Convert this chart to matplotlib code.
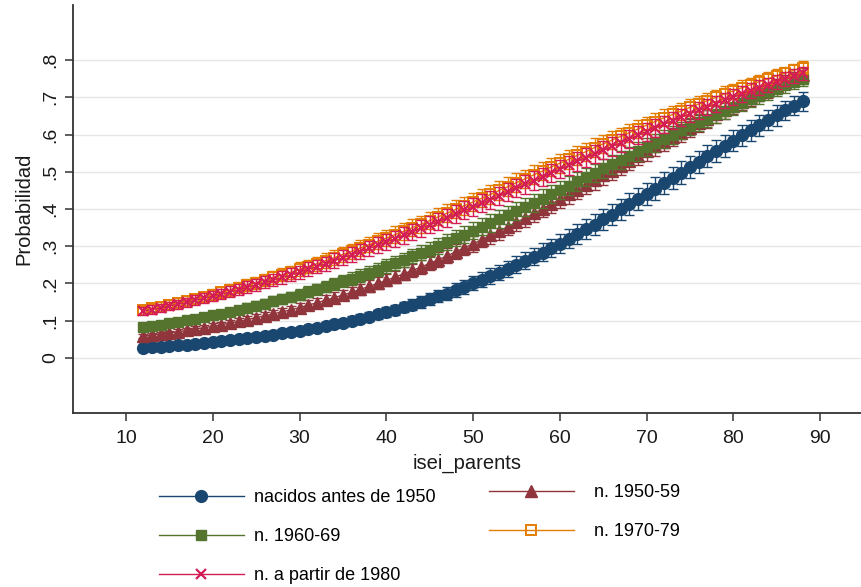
import numpy as np
import matplotlib
matplotlib.use("Agg")
import matplotlib.pyplot as plt
from matplotlib.ticker import FixedLocator, FuncFormatter

plt.rcParams['font.family'] = ['Liberation Sans', 'DejaVu Sans']

# predicted probability by parents' ISEI, one curve per birth cohort
isei = list(range(12, 89))

p_pre1950 = [0.027, 0.029, 0.030, 0.032, 0.034, 0.036, 0.038, 0.040, 0.042, 0.045,
             0.047, 0.050, 0.053, 0.056, 0.059, 0.062, 0.066, 0.069, 0.073, 0.077,
             0.081, 0.086, 0.090, 0.095, 0.100, 0.105, 0.111, 0.117, 0.123, 0.129,
             0.136, 0.143, 0.150, 0.157, 0.165, 0.173, 0.182, 0.190, 0.200, 0.209,
             0.219, 0.229, 0.239, 0.250, 0.260, 0.272, 0.283, 0.295, 0.307, 0.320,
             0.332, 0.345, 0.358, 0.372, 0.385, 0.399, 0.413, 0.427, 0.441, 0.455,
             0.470, 0.484, 0.498, 0.513, 0.527, 0.542, 0.556, 0.570, 0.584, 0.598,
             0.612, 0.625, 0.639, 0.652, 0.665, 0.678, 0.690]

p_1950s = [0.058, 0.061, 0.064, 0.067, 0.070, 0.074, 0.078, 0.081, 0.085, 0.089,
           0.094, 0.098, 0.103, 0.108, 0.113, 0.118, 0.124, 0.129, 0.135, 0.142,
           0.148, 0.155, 0.162, 0.169, 0.176, 0.184, 0.192, 0.200, 0.208, 0.217,
           0.226, 0.235, 0.244, 0.254, 0.264, 0.274, 0.285, 0.296, 0.306, 0.318,
           0.329, 0.340, 0.352, 0.364, 0.376, 0.388, 0.401, 0.413, 0.426, 0.439,
           0.451, 0.464, 0.477, 0.490, 0.503, 0.516, 0.529, 0.542, 0.555, 0.568,
           0.580, 0.593, 0.605, 0.618, 0.630, 0.642, 0.654, 0.665, 0.677, 0.688,
           0.699, 0.710, 0.720, 0.731, 0.741, 0.751, 0.760]

p_1960s = [0.082, 0.086, 0.089, 0.093, 0.097, 0.101, 0.105, 0.110, 0.115, 0.119,
           0.124, 0.129, 0.135, 0.140, 0.146, 0.152, 0.158, 0.164, 0.170, 0.177,
           0.184, 0.191, 0.198, 0.206, 0.213, 0.221, 0.229, 0.237, 0.246, 0.255,
           0.263, 0.273, 0.282, 0.291, 0.301, 0.311, 0.321, 0.331, 0.341, 0.352,
           0.362, 0.373, 0.384, 0.395, 0.406, 0.417, 0.428, 0.440, 0.451, 0.463,
           0.474, 0.486, 0.497, 0.509, 0.520, 0.532, 0.543, 0.555, 0.566, 0.578,
           0.589, 0.600, 0.611, 0.622, 0.633, 0.643, 0.654, 0.664, 0.675, 0.685,
           0.695, 0.704, 0.714, 0.723, 0.732, 0.741, 0.750]

p_1970s = [0.128, 0.133, 0.138, 0.143, 0.148, 0.153, 0.159, 0.164, 0.170, 0.176,
           0.182, 0.189, 0.195, 0.202, 0.209, 0.216, 0.223, 0.230, 0.238, 0.245,
           0.253, 0.261, 0.269, 0.278, 0.286, 0.295, 0.304, 0.313, 0.322, 0.331,
           0.340, 0.350, 0.359, 0.369, 0.379, 0.389, 0.399, 0.409, 0.419, 0.429,
           0.439, 0.450, 0.460, 0.471, 0.481, 0.492, 0.502, 0.513, 0.523, 0.533,
           0.544, 0.554, 0.565, 0.575, 0.585, 0.595, 0.605, 0.615, 0.625, 0.635,
           0.645, 0.654, 0.663, 0.673, 0.682, 0.691, 0.700, 0.709, 0.717, 0.726,
           0.734, 0.742, 0.750, 0.758, 0.765, 0.773, 0.780]

p_1980on = [0.125, 0.130, 0.134, 0.139, 0.144, 0.149, 0.155, 0.160, 0.166, 0.171,
            0.177, 0.183, 0.190, 0.196, 0.203, 0.209, 0.216, 0.223, 0.230, 0.238,
            0.245, 0.253, 0.261, 0.269, 0.277, 0.285, 0.294, 0.302, 0.311, 0.320,
            0.329, 0.338, 0.348, 0.357, 0.366, 0.376, 0.386, 0.396, 0.405, 0.415,
            0.425, 0.435, 0.446, 0.456, 0.466, 0.476, 0.486, 0.497, 0.507, 0.517,
            0.528, 0.538, 0.548, 0.558, 0.568, 0.578, 0.588, 0.598, 0.608, 0.618,
            0.628, 0.637, 0.647, 0.656, 0.665, 0.674, 0.683, 0.692, 0.701, 0.709,
            0.718, 0.726, 0.734, 0.742, 0.750, 0.757, 0.765]

labels = ["nacidos antes de 1950", "n. 1950-59", "n. 1960-69",
          "n. 1970-79", "n. a partir de 1980"]
# half-width of the 95% interval on the logit scale
ci_logit = [0.12, 0.10, 0.10, 0.10, 0.10]

series = [p_pre1950, p_1950s, p_1960s, p_1970s, p_1980on]
colors = ["#1a476f", "#90353b", "#55752f", "#e37e00", "#d41c55"]
markers = ["o", "^", "s", "s", "x"]

fig = plt.figure(figsize=(8.61, 5.87), dpi=100)
ax = fig.add_axes([73 / 861, 174 / 587, 788 / 861, 408 / 587])

x = np.array(isei)
handles = []
for i, p in enumerate(series):
    p = np.array(p)
    logit = np.log(p / (1 - p))
    lo = 1 / (1 + np.exp(-(logit - ci_logit[i])))
    hi = 1 / (1 + np.exp(-(logit + ci_logit[i])))
    ax.errorbar(x, p, yerr=[p - lo, hi - p], fmt='none', ecolor=colors[i],
                elinewidth=1.0, capsize=3.5, capthick=1.0, zorder=2 + i)
    if i == 3:
        ln, = ax.plot(x, p, color=colors[i], lw=1.0, marker='s', ms=7,
                      mfc='none', mec=colors[i], mew=1.4, zorder=2.5 + i)
    elif markers[i] == "x":
        ln, = ax.plot(x, p, color=colors[i], lw=1.0, marker='x', ms=7.5,
                      mew=1.6, zorder=2.5 + i)
    else:
        ms = {"o": 8.5, "^": 8.5, "s": 7.2}[markers[i]]
        ln, = ax.plot(x, p, color=colors[i], lw=1.0, marker=markers[i], ms=ms,
                      mfc=colors[i], mec=colors[i], zorder=2.5 + i)
    handles.append(ln)

ax.set_xlim(3.9, 94.7)
ax.set_ylim(-0.148, 0.948)
ax.set_xticks([10, 20, 30, 40, 50, 60, 70, 80, 90])
ax.yaxis.set_major_locator(FixedLocator([0, .1, .2, .3, .4, .5, .6, .7, .8]))
ax.yaxis.set_major_formatter(FuncFormatter(
    lambda v, pos: "0" if abs(v) < 1e-9 else ("%.1f" % v).lstrip("0")))
for lab in ax.get_yticklabels():
    lab.set_rotation(90)
    lab.set_va('center')
ax.tick_params(axis='both', labelsize=14, length=6, width=1.1,
               color='#333333', labelcolor='#1a1a1a', pad=6)
ax.tick_params(axis='y', pad=4)
ax.grid(axis='y', color='#e6e6e6', lw=1.0, zorder=0)
ax.set_axisbelow(True)
for s in ['top', 'right']:
    ax.spines[s].set_visible(False)
for s in ['left', 'bottom']:
    ax.spines[s].set_color('#333333')
    ax.spines[s].set_linewidth(1.3)

ax.set_xlabel("isei_parents", fontsize=14.5, color='#1a1a1a', labelpad=5)
ax.set_ylabel("Probabilidad", fontsize=14.5, color='#1a1a1a', labelpad=6)

leg_kw = dict(frameon=False, fontsize=13, numpoints=1, borderpad=0,
              borderaxespad=0, labelspacing=1.22, handlelength=4.7)
order1 = [0, 2, 4]
order2 = [1, 3]
leg1 = fig.legend([handles[i] for i in order1], [labels[i] for i in order1],
                  loc='upper left', bbox_to_anchor=(159 / 861, 98 / 587),
                  handletextpad=0.55, **leg_kw)
leg2 = fig.legend([handles[i] for i in order2], [labels[i] for i in order2],
                  loc='upper left', bbox_to_anchor=(489 / 861, 103 / 587),
                  handletextpad=1.1, **leg_kw)

fig.savefig("out.png", dpi=100)
